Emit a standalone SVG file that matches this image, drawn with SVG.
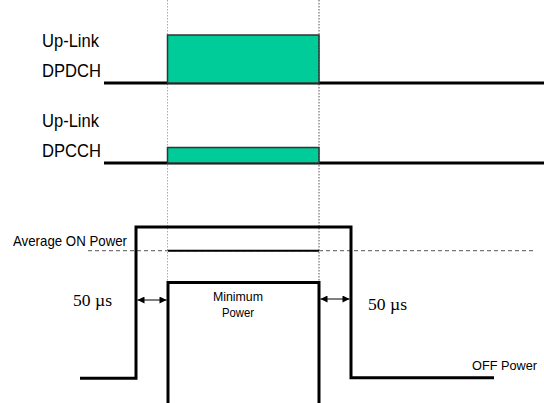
<svg xmlns="http://www.w3.org/2000/svg" width="544" height="403" viewBox="0 0 544 403">
<style>
.lbl{font-family:"Liberation Sans",Arial,sans-serif;fill:#000}
.tm{font-family:"Liberation Serif","Times New Roman",serif;fill:#000}
.thick{fill:none;stroke:#000;stroke-width:3}
.base{fill:none;stroke:#000;stroke-width:3}
.chan{fill:#00cc99;stroke:#333;stroke-width:1.5}
</style>
<defs>
<marker id="ah" viewBox="0 0 10 10" refX="10" refY="5" markerWidth="8" markerHeight="7" markerUnits="userSpaceOnUse" orient="auto-start-reverse">
<path d="M0,0 L10,5 L0,10 z" fill="#000"/>
</marker>
</defs>
<rect width="544" height="403" fill="#fff"/>
<g id="guides">
<line x1="167.5" y1="0" x2="167.5" y2="282" stroke="#aaa" stroke-width="1" stroke-dasharray="1.5,1.5"/>
<line x1="319" y1="0" x2="319" y2="282" stroke="#555" stroke-width="1" stroke-dasharray="1.5,1.5"/>
</g>
<g id="dpdch">
<line class="base" x1="104" y1="83" x2="544" y2="83"/>
<rect class="chan" x="167.5" y="35" width="151.5" height="48"/>
<text class="lbl" x="42" y="47" font-size="18.5" textLength="57" lengthAdjust="spacingAndGlyphs">Up-Link</text>
<text class="lbl" x="42" y="77" font-size="18.5" textLength="59" lengthAdjust="spacingAndGlyphs">DPDCH</text>
</g>
<g id="dpcch">
<line class="base" x1="104" y1="163" x2="544" y2="163"/>
<rect class="chan" x="167.5" y="147.5" width="151.5" height="15.5"/>
<text class="lbl" x="42" y="127" font-size="18.5" textLength="57" lengthAdjust="spacingAndGlyphs">Up-Link</text>
<text class="lbl" x="42" y="157" font-size="18.5" textLength="59" lengthAdjust="spacingAndGlyphs">DPCCH</text>
</g>
<g id="avg-on-power">
<line x1="88" y1="250.7" x2="534" y2="250.7" stroke="#777" stroke-width="1.3" stroke-dasharray="4,3"/>
<line x1="168" y1="250.7" x2="319" y2="250.7" stroke="#000" stroke-width="2"/>
<text class="lbl" x="13" y="246" font-size="14.5" textLength="114" lengthAdjust="spacingAndGlyphs">Average ON Power</text>
</g>
<g id="power-mask">
<path class="thick" d="M80,378.3 H136 V227 H351 V377.7 H494"/>
<text class="lbl" x="472" y="370" font-size="13.5" textLength="65" lengthAdjust="spacingAndGlyphs">OFF Power</text>
</g>
<g id="min-power">
<path class="thick" d="M168,403 V282.5 H319 V403"/>
<text class="lbl" x="238" y="301" font-size="12.5" text-anchor="middle" textLength="50" lengthAdjust="spacingAndGlyphs">Minimum</text>
<text class="lbl" x="238" y="316.7" font-size="12.5" text-anchor="middle" textLength="32" lengthAdjust="spacingAndGlyphs">Power</text>
</g>
<g id="connectors">
<line x1="137.5" y1="300" x2="166.5" y2="300" stroke="#000" stroke-width="1" marker-start="url(#ah)" marker-end="url(#ah)"/>
<line x1="320.5" y1="299" x2="349.5" y2="299" stroke="#000" stroke-width="1" marker-start="url(#ah)" marker-end="url(#ah)"/>
</g>
<g id="timing-labels">
<text class="tm" x="73" y="306" font-size="16" textLength="39" lengthAdjust="spacingAndGlyphs">50 µs</text>
<text class="tm" x="368" y="310" font-size="16" textLength="39" lengthAdjust="spacingAndGlyphs">50 µs</text>
</g>
</svg>
